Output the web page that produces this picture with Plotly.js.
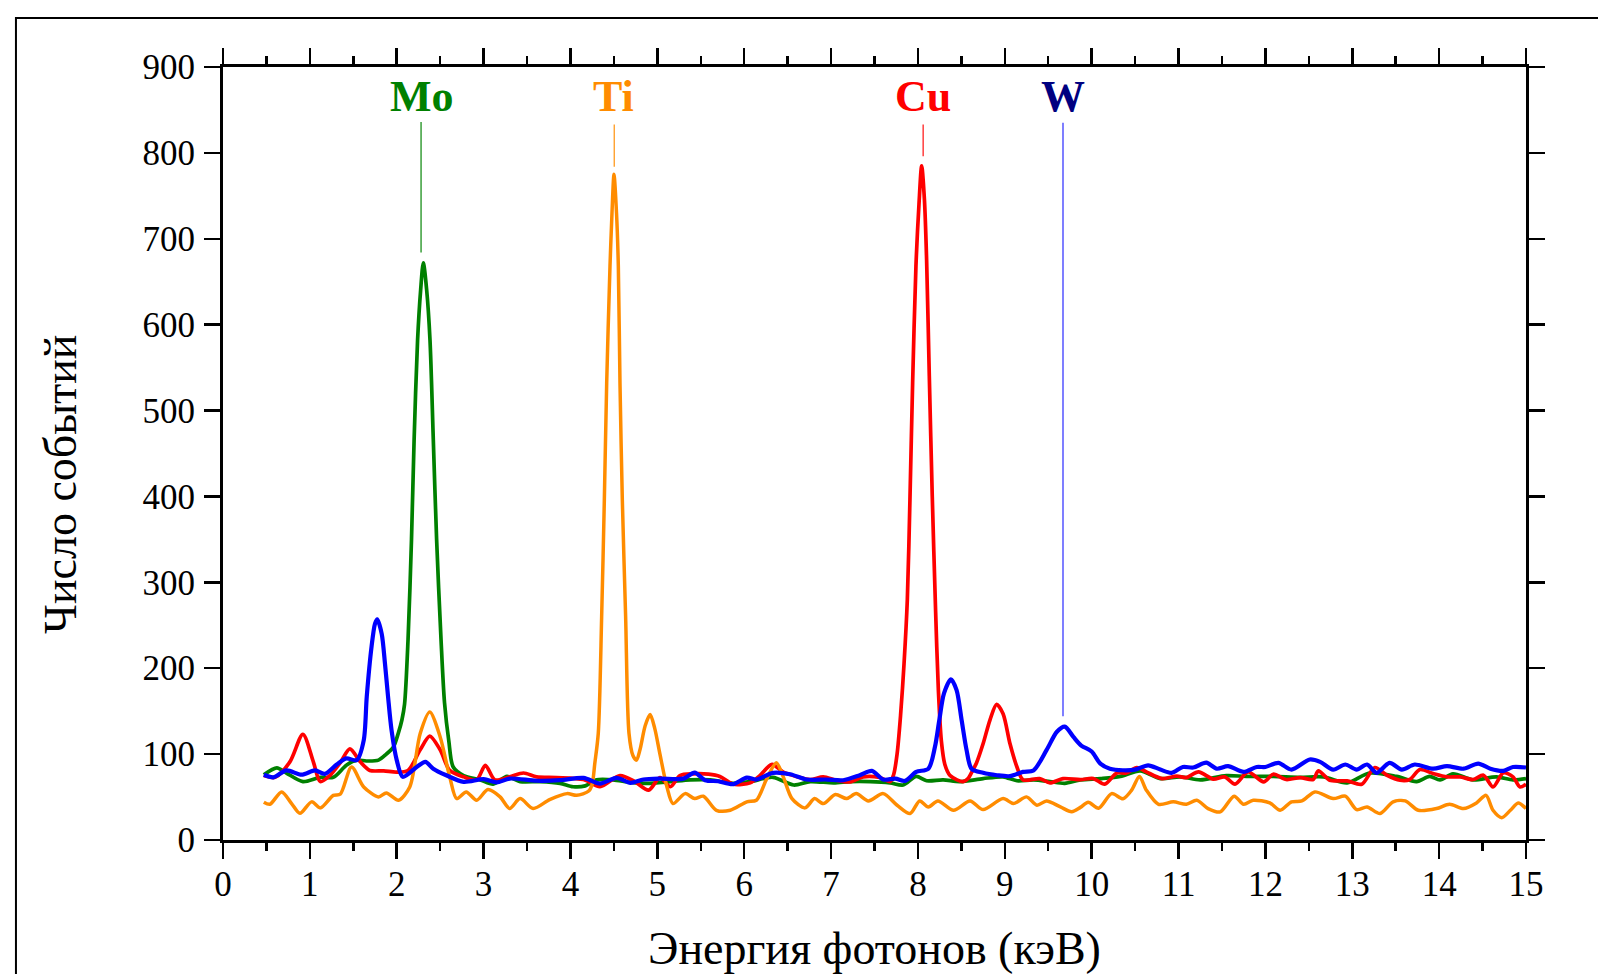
<!DOCTYPE html>
<html>
<head>
<meta charset="utf-8">
<script src="https://cdn.plot.ly/plotly-3.0.1.min.js"></script>
<style>html,body{margin:0;padding:0;background:#fff;}#chart{width:1598px;height:974px;}</style>
</head>
<body>
<div id="chart"></div>
<script>
// ---- Data ----
const moX = [0.47,0.62,0.73,0.92,1.12,1.27,1.42,1.54,1.65,1.79,1.88,1.96,2.02,2.06,2.09,2.13,2.17,2.20,2.24,2.275,2.306,2.345,2.383,2.421,2.459,2.51,2.55,2.60,2.65,2.77,2.96,3.11,3.27,3.42,3.65,3.88,4.03,4.17,4.30,4.49,4.69,4.88,5.15,5.38,5.61,5.87,6.07,6.33,6.57,6.76,7.03,7.22,7.45,7.68,7.83,7.98,8.10,8.29,8.48,8.75,8.98,9.14,9.33,9.52,9.69,9.87,10.1,10.33,10.56,10.79,11.02,11.25,11.55,11.78,12.09,12.40,12.67,12.94,13.20,13.51,13.74,13.89,14.01,14.16,14.39,14.66,14.85,15.0];
const moY = [76,84,78,68,73,73,87,93,92,93,100,108,125,140,158,233,350,466,582,640,672,640,582,466,350,233,160,115,85,75,70,65,74,68,68,66,62,63,70,70,67,66,68,70,70,66,68,73,64,68,66.5,68,68,66.5,64,74,69,70,68,71.5,73.5,69,70,68,66,70,71.5,74,80.5,71.5,73.5,70,75,74,74,73,73.5,66.5,78,74,68,74,70,77,70,73.5,70,71.5];

const cuX = [0.47,0.60,0.77,0.92,1.04,1.12,1.23,1.35,1.46,1.58,1.69,1.85,2.00,2.13,2.27,2.38,2.50,2.61,2.77,2.92,3.02,3.13,3.30,3.46,3.61,3.84,4.15,4.34,4.57,4.74,4.90,5.03,5.15,5.26,5.41,5.59,5.72,5.87,6.07,6.18,6.32,6.45,6.60,6.76,6.91,7.06,7.22,7.37,7.56,7.68,7.72,7.76,7.80,7.84,7.878,7.908,7.939,7.977,8.012,8.043,8.075,8.10,8.131,8.165,8.204,8.235,8.27,8.31,8.37,8.45,8.52,8.58,8.62,8.675,8.75,8.83,8.906,8.98,9.06,9.14,9.21,9.40,9.52,9.67,9.87,10.02,10.15,10.29,10.40,10.52,10.63,10.81,10.98,11.09,11.23,11.40,11.53,11.65,11.80,11.98,12.09,12.24,12.40,12.55,12.61,12.74,12.94,13.11,13.26,13.40,13.55,13.66,13.78,13.93,14.09,14.24,14.39,14.51,14.62,14.74,14.85,14.93,15.0];
const cuY = [75,73,91,123,91,68,75,90,106,91,81,80.5,79,81,105,121,105,81,73.5,70,87,70,73.5,78,73.5,72.7,70.4,62,75,68,58,72.7,62,75,77,76.6,74,65,66.5,75,88,79,74,70.4,73.5,69.6,67.7,73.5,72.7,68,76,100,145,205,280,396,532,668,740,785,745,675,540,400,265,175,115,88,75,70,68,72,79,90,112,140,158,147,112,85,70,71.5,66.5,71.5,70.4,71.5,65,78,78,84.4,79.3,71.5,74.3,72.7,79.3,70.8,73.5,65,79.3,67.7,76.6,70.4,72.7,70.4,80.5,69.6,68.8,65,84.4,75.4,69.6,70.4,82,77.4,73.5,73.5,70.4,75.4,61.8,78.2,73.5,61.8,65];

const tiX = [0.47,0.54,0.675,0.79,0.886,1.02,1.12,1.27,1.35,1.48,1.62,1.79,1.88,2.02,2.15,2.27,2.38,2.50,2.61,2.69,2.80,2.92,3.05,3.19,3.30,3.42,3.57,3.76,3.96,4.07,4.21,4.25,4.28,4.32,4.359,4.39,4.417,4.455,4.478,4.501,4.53,4.551,4.57,4.597,4.635,4.674,4.72,4.76,4.80,4.86,4.917,4.97,5.03,5.11,5.18,5.32,5.43,5.53,5.68,5.84,6.03,6.14,6.26,6.37,6.45,6.55,6.70,6.81,6.91,7.05,7.18,7.29,7.43,7.60,7.76,7.91,8.02,8.12,8.23,8.41,8.60,8.75,8.98,9.10,9.25,9.37,9.48,9.64,9.77,9.87,9.96,10.08,10.23,10.36,10.46,10.55,10.63,10.77,10.94,11.09,11.21,11.34,11.48,11.64,11.75,11.86,12.05,12.17,12.30,12.42,12.57,12.78,12.92,13.05,13.17,13.32,13.47,13.61,13.76,13.97,14.12,14.28,14.43,14.54,14.62,14.72,14.82,14.91,15.0];
const tiY = [44,41.6,56,42.4,31,44.4,37.4,52,53.3,85,61.8,50.2,54.8,46.3,61.8,124,149,120,73.5,48.2,56,46.3,58.7,50.2,36.6,48.2,36.6,47,54,52,57,65,89,124,260,396,532,668,730,775,730,668,532,396,260,124,98,93,105,133,146,130,100,62,42.4,54,48.2,51,34.6,34.6,44.4,46.3,71.5,89.8,73.5,48.2,37.4,48.2,42.4,53,48.2,54,45.5,54,40.5,30.8,45.5,38.5,45.5,34.6,45.5,35.4,48.2,42.4,50.2,40.5,45.5,38.5,33,38,44,37,54,48,58,74,58,41.6,44.4,41.6,46.3,36.6,32.7,51,41.6,46.3,43.2,34.6,44.4,45.5,56,48.2,51,35.4,38.5,30.8,44.4,45.5,34.6,36.6,41.6,36.6,43.2,52,34.6,26,34.6,43.2,36.6];

const wX = [0.47,0.58,0.73,0.905,1.06,1.17,1.31,1.42,1.54,1.62,1.655,1.71,1.75,1.776,1.827,1.865,1.90,1.94,2.00,2.07,2.23,2.33,2.42,2.57,2.77,3.00,3.15,3.30,3.61,3.88,4.15,4.34,4.53,4.69,4.84,5.03,5.30,5.43,5.55,5.70,5.87,6.03,6.14,6.33,6.53,6.72,6.95,7.14,7.33,7.47,7.60,7.74,7.85,7.98,8.12,8.196,8.246,8.30,8.38,8.445,8.503,8.56,8.617,8.75,8.91,9.06,9.21,9.33,9.48,9.60,9.69,9.79,9.88,10.0,10.1,10.21,10.36,10.50,10.65,10.79,10.92,11.05,11.17,11.32,11.44,11.57,11.75,11.90,12.0,12.15,12.30,12.51,12.63,12.78,12.92,13.05,13.17,13.28,13.43,13.57,13.72,13.93,14.09,14.28,14.45,14.59,14.74,14.85,15.0];
const wY = [76,73,81,76,81,77,88,95,93,116,167,225,252,257,240,205,167,128,93,73.5,85,91,83,75.4,67.7,70.8,67,71.5,69,69.6,72.3,65.7,72.3,66.5,70.4,71.5,71.5,78.5,69.6,68.4,65,72.7,70.4,78.2,76.6,70.4,70.4,69.6,75.4,80.5,70.4,71.5,68.8,79.3,83,108.5,139.5,170.6,187,174.5,139.5,104.6,83,78.2,75.4,74.3,79.3,81,104.6,126,132,120,110,103,89,83,81.2,82,87,82,78.2,85,84.4,90,83,86,79.3,85,85,89.8,82,93.7,91,82,87.9,82,87.9,78.2,89.8,82,87.9,83,86,83,89,83,80.5,85,84.4];

// peak labels
const elementNames = ['Mo','Ti','Cu','W'];
const labelEnergy = [2.29, 4.50, 8.055, 9.67];
const lineEnergy = [2.28, 4.504, 8.06, 9.67];
const lineTop = [836, 833, 833, 835];
const lineBottom = [684, 784, 796, 144];
const labelLevel = 866;
const labelColors = ['#008000','#FF8C00','#FF0000','#000080'];
const lineColors = ['#1a8f1a','#FF9A1F','#FF2020','#3a3aff'];

const seriesColors = {Mo:'#008000', Ti:'#FF8C00', Cu:'#FF0000', W:'#0000FF'};

const FONT = 'Liberation Serif, Times New Roman, serif';

const traces = [];
// label lines
for (let i = 0; i < elementNames.length; i++) {
  traces.push({
    x: [lineEnergy[i], lineEnergy[i]], y: [lineTop[i], lineBottom[i]],
    mode: 'lines', line: {color: lineColors[i], width: 1.3},
    hoverinfo: 'skip', showlegend: false
  });
}
const lineSpec = {shape: 'spline', smoothing: 0.8};
traces.push({x: moX, y: moY, name: 'Mo', mode: 'lines', line: Object.assign({color: seriesColors.Mo, width: 3.7}, lineSpec)});
traces.push({x: cuX, y: cuY, name: 'Cu', mode: 'lines', line: Object.assign({color: seriesColors.Cu, width: 3.7}, lineSpec)});
traces.push({x: tiX, y: tiY, name: 'Ti', mode: 'lines', line: Object.assign({color: seriesColors.Ti, width: 3.5}, lineSpec)});
traces.push({x: wX, y: wY, name: 'W', mode: 'lines', line: Object.assign({color: seriesColors.W, width: 4.2}, lineSpec)});

const annotations = elementNames.map((n, i) => ({
  x: labelEnergy[i], y: labelLevel, xref: 'x', yref: 'y',
  text: n, showarrow: false, xanchor: 'center', yanchor: 'middle',
  font: {family: FONT, size: 44, color: labelColors[i], weight: 'bold'}
}));
annotations.push({
  x: -0.1243, y: 0.4593, xref: 'paper', yref: 'paper',
  text: 'Число событий', textangle: -90, showarrow: false,
  xanchor: 'center', yanchor: 'middle',
  font: {family: FONT, size: 46, color: '#000'}
});

const axisCommon = {
  showgrid: false, zeroline: false, showline: true, linecolor: '#000', linewidth: 3,
  ticks: 'outside', ticklen: 16, tickwidth: 2.5, tickcolor: '#000', mirror: 'ticks',
  tickfont: {family: FONT, size: 35, color: '#000'}
};

const layout = {
  width: 1598, height: 974,
  margin: {l: 223, r: 72, t: 67, b: 134},
  paper_bgcolor: '#fff', plot_bgcolor: '#fff',
  showlegend: false, hovermode: false,
  xaxis: Object.assign({}, axisCommon, {
    range: [0, 15], tick0: 0, dtick: 1,
    minor: {dtick: 0.5, ticks: 'outside', ticklen: 8, tickwidth: 2.5, tickcolor: '#000', showgrid: false},
    ticklabelstandoff: -5,
    title: {text: 'Энергия фотонов (кэВ)', font: {family: FONT, size: 46, color: '#000'}, standoff: 45}
  }),
  yaxis: Object.assign({}, axisCommon, {
    range: [0, 900], tick0: 0, dtick: 100,
    ticklabelstandoff: 2
  }),
  annotations: annotations,
  shapes: [{
    type: 'rect', xref: 'paper', yref: 'paper',
    x0: -0.1589, x1: 1.3, y0: -0.4, y1: 1.0634,
    line: {color: '#000', width: 2}, fillcolor: 'rgba(0,0,0,0)', layer: 'below'
  }]
};

Plotly.newPlot('chart', traces, layout, {staticPlot: true, displayModeBar: false});
</script>
</body>
</html>
